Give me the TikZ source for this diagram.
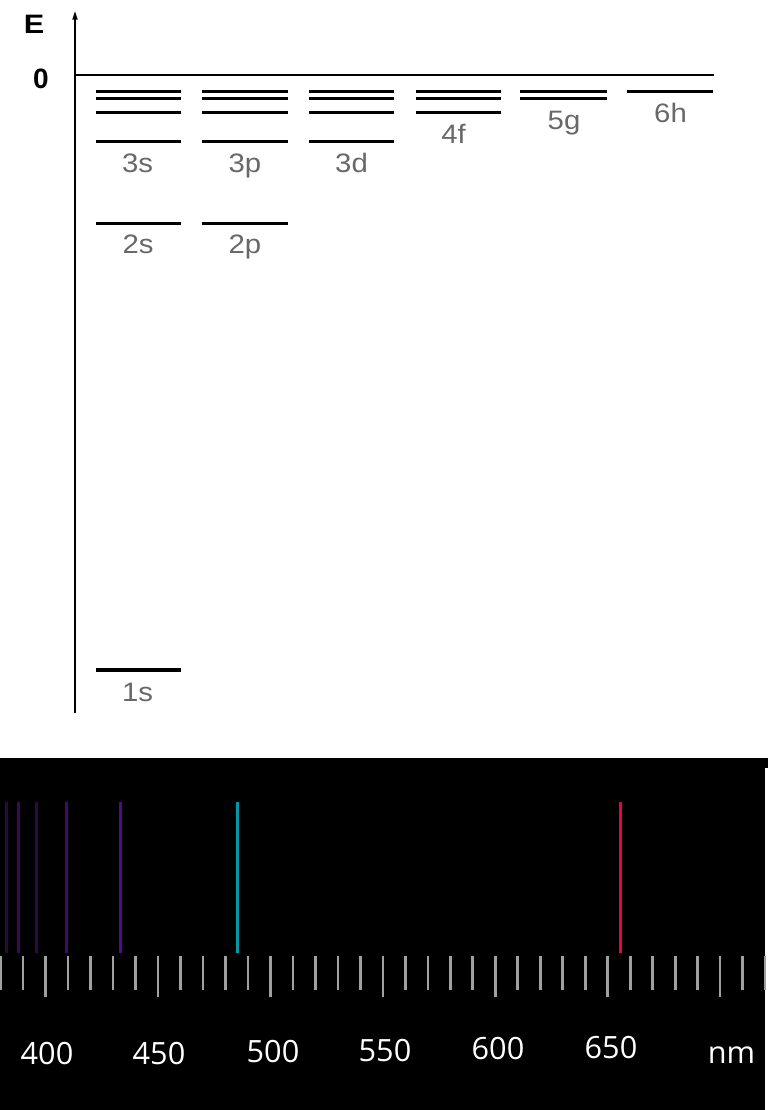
\documentclass[tikz,border=0pt]{standalone}
\usepackage{fontspec}
\setmainfont{Liberation Sans}
\newfontfamily\osans{Open Sans}
\usetikzlibrary{arrows.meta}
\definecolor{lvlgray}{HTML}{686868}
\definecolor{tickgray}{HTML}{A0A0A0}
\definecolor{sA}{HTML}{2A0A3C}
\definecolor{sB}{HTML}{3A0A58}
\definecolor{sC}{HTML}{2E0A45}
\definecolor{sD}{HTML}{43086E}
\definecolor{sE}{HTML}{50098F}
\definecolor{sF}{HTML}{0596A8}
\definecolor{sG}{HTML}{E6004F}
\begin{document}
\begin{tikzpicture}[x=0.75pt,y=-0.75pt,
  level/.style={line width=2.3pt, black},
  lvllabel/.style={text=lvlgray, font=\fontsize{20}{20}\selectfont, anchor=base, inner sep=0pt, xscale=1.1},
  axislabel/.style={text=black, font=\bfseries\fontsize{20}{20}\selectfont, inner sep=0pt},
  axisline/.style={line width=1.1pt, black},
  tickmark/.style={draw=tickgray, line width=2pt},
  specline/.style={line width=2.25pt},
  nmlabel/.style={text=white, font=\osans\fontsize{23}{23}\selectfont, anchor=base, inner sep=0pt}]
\useasboundingbox (0,0) rectangle (768,1110);
% black spectrum panel
\fill[black] (0,758) rectangle (768,768);
\fill[black] (0,768) rectangle (765,1110);
% axes
\coordinate (axbot) at (75,713);
\coordinate (axtop) at (75,11);
\coordinate (zl) at (75,75);
\coordinate (zr) at (714,75);
\draw[axisline,-{Triangle[length=6.5pt,width=3.8pt]}] (axbot) -- (axtop);
\draw[axisline] (zl) -- (zr);
\node[axislabel,xscale=1.15] (elab) at (34,24) {E};
\node[axislabel,font=\bfseries\fontsize{21}{21}\selectfont] (zlab) at (41,79) {0};
% energy levels  E_n = -13.6/n^2
\foreach \xl/\xr/\nmin in {96/181/1, 202/288/2, 309/394/3, 416/501/4, 520/607/5, 627/713/6}{
  \foreach \n in {\nmin,...,6}{
    \pgfmathsetmacro\yy{75+595/(\n*\n)}
    \draw[level] (\xl,\yy) -- (\xr,\yy);
  }
}
% level labels
\node[lvllabel] (l1s) at (137.5,701) {1s};
\node[lvllabel] (l2s) at (138,253) {2s};
\node[lvllabel] (l2p) at (245,253) {2p};
\node[lvllabel] (l3s) at (137.5,172) {3s};
\node[lvllabel] (l3p) at (245,172) {3p};
\node[lvllabel] (l3d) at (351.5,172) {3d};
\node[lvllabel] (l4f) at (453.5,143) {4f};
\node[lvllabel] (l5g) at (564,129) {5g};
\node[lvllabel] (l6h) at (670.5,122) {6h};
% spectral lines
\foreach \sx/\sc in {6/sA, 18.3/sB, 36.3/sC, 66.3/sD, 120.3/sE, 237.3/sF, 620/sG}{
  \draw[specline,draw=\sc] (\sx,802) -- (\sx,953);
}
% ticks
\foreach \nm in {380,390,...,720}{
  \pgfmathsetmacro\tx{45.6+(\nm-400)*2.2485}
  \pgfmathparse{mod(\nm,50)==0 ? 997 : 990}\let\ty\pgfmathresult
  \draw[tickmark] (\tx,956) -- (\tx,\ty);
}
% wavelength labels
\node[nmlabel] (w400) at (47,1064) {400};
\node[nmlabel] (w450) at (159,1064) {450};
\node[nmlabel] (w500) at (273,1062) {500};
\node[nmlabel] (w550) at (385,1061) {550};
\node[nmlabel] (w600) at (498,1059) {600};
\node[nmlabel] (w650) at (611,1058.5) {650};
\node[nmlabel] (wnm) at (731.5,1063) {nm};
\end{tikzpicture}
\end{document}
